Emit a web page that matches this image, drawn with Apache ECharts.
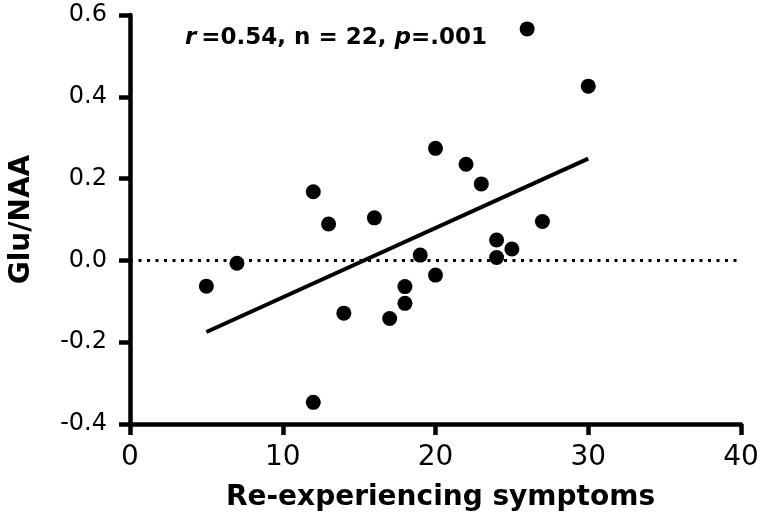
<!DOCTYPE html>
<html>
<head>
<meta charset="utf-8">
<script src="https://cdn.jsdelivr.net/npm/echarts@6/dist/echarts.min.js"></script>
<style>
html,body{margin:0;padding:0;background:#fff;}
#chart{width:763px;height:519px;}
</style>
</head>
<body>
<div id="chart"></div>
<script>
// Re-experiencing symptoms (x) vs Glu/NAA (y)
var symptoms = [5, 7, 12, 12, 13, 14, 16, 17, 18, 18, 19, 20, 20, 22, 23, 24, 24, 25, 26, 27, 30];
var gluNaa   = [-0.063, -0.007, 0.168, -0.347, 0.089, -0.129, 0.104, -0.142, -0.064, -0.105, 0.013, 0.274, -0.036, 0.235, 0.187, 0.050, 0.007, 0.028, 0.566, 0.095, 0.426];
var fitX = [5, 30];
var fitY = [-0.175, 0.249];
var zeroX = [0, 40];
var zeroY = [0, 0];
var xTickLabels = ['0', '10', '20', '30', '40'];
var yTickLabels = ['-0.4', '-0.2', '0.0', '0.2', '0.4', '0.6'];

var FONT = '"DejaVu Sans", "Liberation Sans", Arial, sans-serif';
var pts = symptoms.map(function (x, i) { return [x, gluNaa[i]]; });
var fitLine = fitX.map(function (x, i) { return [x, fitY[i]]; });
var zeroLine = zeroX.map(function (x, i) { return [x, zeroY[i]]; });

var chart = echarts.init(document.getElementById('chart'), null, {renderer: 'canvas'});
chart.setOption({
  animation: false,
  backgroundColor: '#ffffff',
  title: {
    left: 180, top: 22,
    text: '{i|r} {b|=0.54, n = 22, }{i|p}{b|=.001}',
    textStyle: {
      rich: {
        i: {fontFamily: FONT, fontSize: 23, fontWeight: 'bold', fontStyle: 'italic', color: '#000'},
        b: {fontFamily: FONT, fontSize: 23, fontWeight: 'bold', color: '#000'}
      }
    }
  },
  grid: {left: 130, right: 22, top: 15, bottom: 95, containLabel: false},
  xAxis: {
    type: 'value', min: 0, max: 40, interval: 10,
    name: 'Re-experiencing symptoms', nameLocation: 'middle', nameGap: 60,
    nameTextStyle: {fontFamily: FONT, fontSize: 28, fontWeight: 'bold', color: '#000', padding: [0, 0, 0, 10]},
    axisLine: {show: true, onZero: false, lineStyle: {color: '#000', width: 4.5}},
    axisTick: {show: true, length: 11, lineStyle: {color: '#000', width: 4.5}},
    axisLabel: {
      fontFamily: FONT, fontSize: 28, color: '#000', margin: 20,
      formatter: function (v) { return xTickLabels[Math.round(v / 10)]; }
    },
    splitLine: {show: false}
  },
  yAxis: {
    type: 'value', min: -0.4, max: 0.6, interval: 0.2,
    name: 'Glu/NAA', nameLocation: 'middle', nameGap: 94, nameRotate: 90,
    nameTextStyle: {fontFamily: FONT, fontSize: 28, fontWeight: 'bold', color: '#000'},
    axisLine: {show: true, onZero: false, lineStyle: {color: '#000', width: 4.5}},
    axisTick: {show: true, length: 11, lineStyle: {color: '#000', width: 4.5}},
    axisLabel: {
      fontFamily: FONT, fontSize: 24, color: '#000', margin: 23,
      formatter: function (v) { return yTickLabels[Math.round((v + 0.4) / 0.2)]; }
    },
    splitLine: {show: false}
  },
  series: [
    {
      type: 'line', data: zeroLine, symbol: 'none', silent: true,
      lineStyle: {color: '#000', width: 3, type: [3, 5.5]}, z: 1
    },
    {
      type: 'line', data: fitLine, symbol: 'none', silent: true,
      lineStyle: {color: '#000', width: 4}, z: 2
    },
    {
      type: 'scatter', data: pts, symbol: 'circle', symbolSize: 15,
      itemStyle: {color: '#000', opacity: 1}, z: 3
    }
  ]
});
</script>
</body>
</html>
